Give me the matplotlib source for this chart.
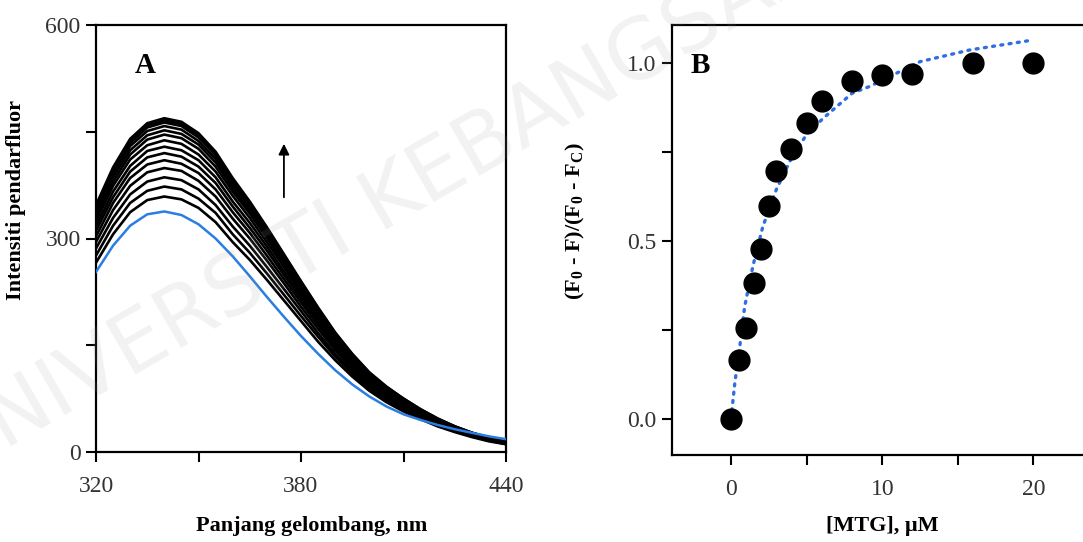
import numpy as np
import matplotlib
matplotlib.use("Agg")
import matplotlib.pyplot as plt

plt.rcParams['font.family'] = ['Liberation Serif', 'DejaVu Serif']
plt.rcParams['mathtext.fontset'] = 'custom'
plt.rcParams['mathtext.rm'] = 'Liberation Serif'
plt.rcParams['mathtext.bf'] = 'Liberation Serif:bold'

# Panel A: emission spectra (wavelength in nm, 5 nm steps)
wavelength = [320, 325, 330, 335, 340, 345, 350, 355, 360, 365, 370, 375, 380,
              385, 390, 395, 400, 405, 410, 415, 420, 425, 430, 435, 440]

spectrum_free = [253, 290, 318, 334, 338, 333, 320, 300, 275, 247, 218, 190, 163,
                 138, 115, 95, 78, 64, 53, 45, 38, 32, 27, 22, 18]

spectra_titration = [
    [266, 306, 337, 354, 359, 355, 343, 323, 295, 270, 242, 213, 184, 155, 129, 106, 86, 70, 57, 46, 36, 28, 21, 15, 11],
    [276, 318, 350, 367, 373, 369, 356, 336, 306, 280, 251, 221, 191, 162, 134, 110, 89, 73, 60, 48, 37, 29, 22, 16, 11],
    [286, 329, 362, 380, 386, 382, 369, 347, 317, 290, 260, 229, 198, 167, 138, 113, 92, 76, 62, 49, 39, 30, 22, 17, 12],
    [295, 340, 374, 393, 399, 395, 381, 359, 328, 300, 269, 237, 204, 173, 143, 117, 95, 78, 64, 51, 40, 31, 23, 17, 12],
    [303, 350, 385, 404, 410, 405, 392, 369, 337, 308, 276, 243, 210, 178, 147, 121, 98, 80, 66, 52, 41, 32, 24, 18, 12],
    [311, 358, 394, 414, 420, 415, 401, 378, 345, 315, 283, 249, 215, 182, 150, 123, 100, 82, 67, 54, 42, 32, 24, 18, 13],
    [317, 366, 402, 423, 429, 424, 410, 386, 352, 322, 289, 254, 220, 186, 154, 126, 103, 84, 69, 55, 43, 33, 25, 18, 13],
    [324, 374, 411, 431, 438, 433, 418, 394, 360, 329, 295, 260, 224, 190, 157, 129, 105, 86, 70, 56, 44, 34, 25, 19, 13],
    [330, 380, 418, 439, 446, 441, 426, 401, 366, 335, 301, 264, 228, 193, 160, 131, 107, 87, 71, 57, 45, 34, 26, 19, 13],
    [334, 386, 424, 445, 452, 447, 432, 407, 371, 339, 305, 268, 231, 196, 162, 133, 108, 89, 72, 58, 45, 35, 26, 19, 14],
    [339, 391, 430, 451, 458, 453, 437, 412, 376, 344, 309, 272, 234, 198, 164, 135, 109, 90, 73, 59, 46, 35, 27, 20, 14],
    [343, 395, 434, 456, 463, 458, 442, 417, 380, 348, 312, 275, 237, 200, 166, 136, 111, 91, 74, 59, 46, 36, 27, 20, 14],
    [345, 397, 437, 459, 466, 461, 445, 419, 383, 350, 314, 276, 239, 202, 167, 137, 111, 91, 75, 60, 47, 36, 27, 20, 14],
    [347, 400, 440, 462, 469, 464, 448, 422, 385, 352, 316, 278, 240, 203, 168, 138, 112, 92, 75, 60, 47, 36, 27, 20, 14],
]

# Panel B: binding data
mtg_conc = [0, 0.5, 1, 1.5, 2, 2.5, 3, 4, 5, 6, 8, 10, 12, 16, 20]
fraction = [0.0, 0.166, 0.255, 0.382, 0.479, 0.598, 0.698, 0.759, 0.831, 0.893,
            0.951, 0.966, 0.969, 1.0, 1.0]

fit_x = [0, 0.25, 0.6, 0.9, 1.45, 2.1, 3, 3.9, 5, 6.1, 8, 9.2, 10, 12.5, 15.8, 20]
fit_y = [0, 0.10, 0.21, 0.315, 0.43, 0.54, 0.645, 0.725, 0.80, 0.845, 0.915,
         0.935, 0.952, 1.004, 1.037, 1.065]

fig = plt.figure(figsize=(10.83, 5.42), dpi=100)

# ---- panel A
axA = fig.add_axes([96 / 1083, 1 - 452 / 542, 410 / 1083, 427 / 542])
for sp in spectra_titration:
    axA.plot(wavelength, sp, color='black', lw=1.9, zorder=2)
axA.plot(wavelength, spectrum_free, color='#2a7de1', lw=1.8, zorder=3)

axA.annotate('', xy=(375, 437), xytext=(375, 354),
             arrowprops=dict(arrowstyle='-|>', color='black', lw=1.3,
                             mutation_scale=16))
axA.text(0.095, 0.905, 'A', transform=axA.transAxes, fontsize=21,
         fontweight='bold', va='center', ha='left')

axA.set_xlim(320, 440)
axA.set_ylim(0, 600)
axA.set_xticks([320, 380, 440])
axA.set_xticks([350, 410], minor=True)
axA.set_yticks([0, 300, 600])
axA.set_yticks([150, 450], minor=True)
axA.set_xlabel('Panjang gelombang, nm', fontsize=16, fontweight='bold')
axA.set_ylabel('Intensiti pendarfluor', fontsize=16, fontweight='bold')
axA.xaxis.set_label_coords((312 - 96) / 410, -(516 - 452) / 427)
axA.yaxis.set_label_coords(-(96 - 26) / 410, (452 - 200) / 427)

# ---- panel B
axB = fig.add_axes([672 / 1083, 1 - 455 / 542, 422 / 1083, 430 / 542])
axB.plot(fit_x, fit_y, color='#2f6fe0', lw=2.4, linestyle=(0, (0.6, 1.9)),
         dash_capstyle='round', zorder=2)
axB.plot(mtg_conc, fraction, 'o', color='black', ms=15, zorder=3)
axB.text(0.045, 0.905, 'B', transform=axB.transAxes, fontsize=21,
         fontweight='bold', va='center', ha='left')

axB.set_xlim(-3.9, 24)
axB.set_ylim(-0.101, 1.107)
axB.set_xticks([0, 10, 20])
axB.set_xticks([5, 15], minor=True)
axB.set_yticks([0.0, 0.5, 1.0])
axB.set_yticklabels(['0.0', '0.5', '1.0'])
axB.set_yticks([0.25, 0.75], minor=True)
axB.set_xlabel('[MTG], \u03bcM', fontsize=16, fontweight='bold')
axB.set_ylabel(r'(F$_\mathbf{0}$ - F)/(F$_\mathbf{0}$ - F$_\mathbf{C}$)',
               fontsize=16, fontweight='bold')
axB.xaxis.set_label_coords((882 - 672) / 422, -(516 - 455) / 430)
axB.yaxis.set_label_coords(-(672 - 587) / 422, (455 - 221) / 430)

for ax in (axA, axB):
    for sp in ax.spines.values():
        sp.set_linewidth(1.6)
    ax.tick_params(which='both', direction='out', length=7, width=1.5,
                   labelsize=17, colors='black', labelcolor='#333333', pad=4)
    ax.tick_params(axis='x', which='major', pad=10)

# faint watermark over the figure
fig.text(0.004, 0.17, 'NIVERSITI KEBANGSAAN', fontsize=60, color='#999999',
         alpha=0.13, rotation=30, rotation_mode='anchor', ha='left',
         va='baseline', family='DejaVu Sans', zorder=10)

fig.savefig('out.png', dpi=100)
